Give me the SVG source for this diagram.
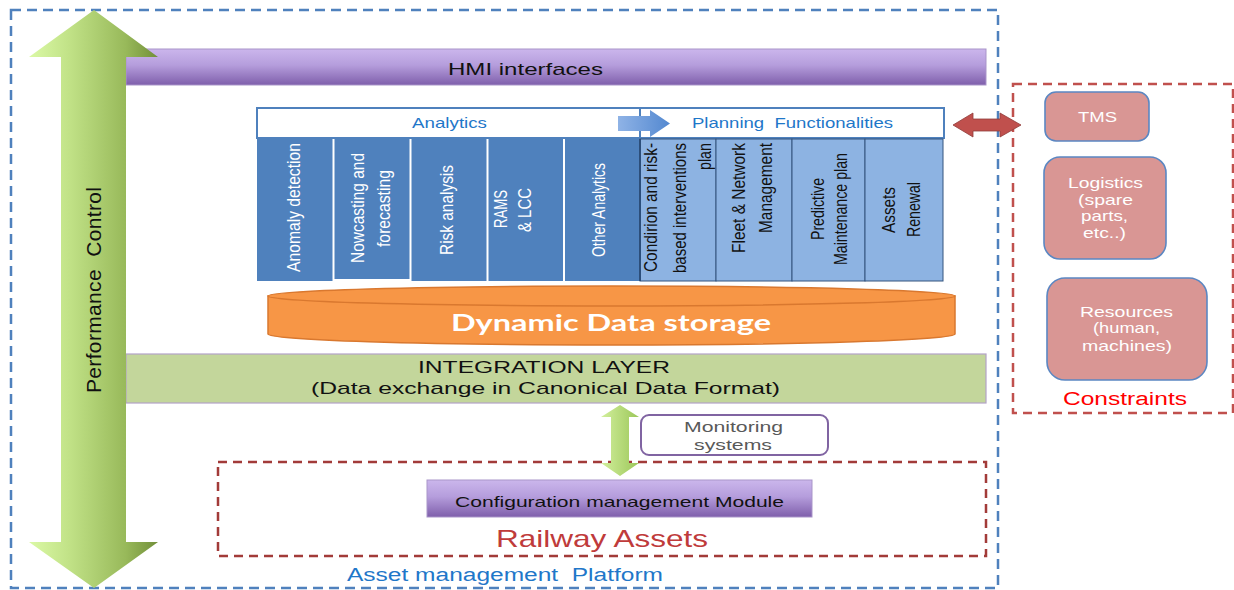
<svg xmlns="http://www.w3.org/2000/svg" width="1234" height="590" viewBox="0 0 1234 590">
<defs>
<linearGradient id="gPerf" gradientUnits="userSpaceOnUse" x1="29" y1="0" x2="158" y2="0">
<stop offset="0" stop-color="#dbf9a6"/><stop offset="0.3" stop-color="#c2e388"/><stop offset="0.75" stop-color="#98b95a"/><stop offset="1" stop-color="#728f3a"/>
</linearGradient>
<linearGradient id="gPurple" x1="0" y1="0" x2="0" y2="1">
<stop offset="0" stop-color="#cbb6ec"/><stop offset="0.45" stop-color="#b59ddc"/><stop offset="1" stop-color="#7f5fab"/>
</linearGradient>
<linearGradient id="gBlueArrow" x1="0" y1="0" x2="1" y2="0">
<stop offset="0" stop-color="#8fb3e6"/><stop offset="1" stop-color="#5388d0"/>
</linearGradient>
<linearGradient id="gSmallGreen" x1="0" y1="0" x2="1" y2="0">
<stop offset="0" stop-color="#d2ef9c"/><stop offset="1" stop-color="#9cc75a"/>
</linearGradient>
<style>
.txt{font-family:"Liberation Sans",Arial,sans-serif}
.cellA{font-family:"Liberation Sans",Arial,sans-serif;font-size:17.5px;fill:#ffffff}
.cellP{font-family:"Liberation Sans",Arial,sans-serif;font-size:17.5px;fill:#111111}
.blueTxt{fill:#1f77c9}
.cstr{fill:#d99694;stroke:#5b87c2;stroke-width:1.6}
.cstrTxt{font-family:"Liberation Sans",Arial,sans-serif;font-size:15px;fill:#ffffff;text-anchor:middle}
.aBox{fill:#4f81bd}
.pBox{fill:#8db3e2;stroke:#34557f;stroke-width:1}
.sep{stroke:#ffffff;stroke-width:2}
</style>
</defs>
<rect width="1234" height="590" fill="#ffffff"/>

<g id="platform">
<rect x="11" y="10" width="987" height="578" fill="none" stroke="#4f81bd" stroke-width="2.5" stroke-dasharray="10,6"/>
<text class="txt blueTxt" x="505" y="581" font-size="18" text-anchor="middle" textLength="316" lengthAdjust="spacingAndGlyphs">Asset management &#160;Platform</text>
</g>

<g id="hmi">
<rect x="126" y="49" width="860" height="36" fill="url(#gPurple)" stroke="#a995c9" stroke-width="1"/>
<text class="txt" x="525.5" y="75" font-size="17" text-anchor="middle" fill="#111" textLength="155" lengthAdjust="spacingAndGlyphs">HMI interfaces</text>
</g>

<g id="analytics-header">
<rect x="257" y="108" width="383" height="30" fill="#ffffff" stroke="#4f81bd" stroke-width="2"/>
<text class="txt blueTxt" x="449.5" y="128" font-size="15" text-anchor="middle" textLength="75" lengthAdjust="spacingAndGlyphs">Analytics</text>
</g>
<g id="planning-header">
<rect x="640" y="108" width="304" height="30" fill="#ffffff" stroke="#4f81bd" stroke-width="2"/>
<text class="txt blueTxt" x="792.5" y="128" font-size="15" text-anchor="middle" textLength="201" lengthAdjust="spacingAndGlyphs">Planning &#160;Functionalities</text>
</g>

<g id="analytics-cells">
<rect class="aBox" x="257" y="139" width="383" height="142"/>
<line class="sep" x1="333.5" y1="139" x2="333.5" y2="281"/>
<line class="sep" x1="410.5" y1="139" x2="410.5" y2="281"/>
<line class="sep" x1="487.5" y1="139" x2="487.5" y2="281"/>
<line class="sep" x1="564" y1="139" x2="564" y2="281"/>
<line x1="333" y1="280" x2="410" y2="280" stroke="#ffffff" stroke-width="2"/>
</g>
<g id="cell-anomaly"><text class="cellA" transform="translate(300,207.5) rotate(-90)" text-anchor="middle" textLength="129" lengthAdjust="spacingAndGlyphs">Anomaly detection</text></g>
<g id="cell-nowcasting">
<text class="cellA" transform="translate(364,208) rotate(-90)" text-anchor="middle" textLength="110" lengthAdjust="spacingAndGlyphs">Nowcasting and</text>
<text class="cellA" transform="translate(390,208.5) rotate(-90)" text-anchor="middle" textLength="77" lengthAdjust="spacingAndGlyphs">forecasting</text>
</g>
<g id="cell-risk"><text class="cellA" transform="translate(453,210) rotate(-90)" text-anchor="middle" textLength="90" lengthAdjust="spacingAndGlyphs">Risk analysis</text></g>
<g id="cell-rams">
<text class="cellA" transform="translate(507,209) rotate(-90)" text-anchor="middle" textLength="38" lengthAdjust="spacingAndGlyphs">RAMS</text>
<text class="cellA" transform="translate(531,210) rotate(-90)" text-anchor="middle" textLength="44" lengthAdjust="spacingAndGlyphs">&amp; LCC</text>
</g>
<g id="cell-other"><text class="cellA" transform="translate(605,210) rotate(-90)" text-anchor="middle" textLength="94" lengthAdjust="spacingAndGlyphs">Other Analytics</text></g>

<g id="planning-cells">
<rect class="pBox" x="640" y="139" width="76" height="142"/>
<rect class="pBox" x="716" y="139" width="76" height="142"/>
<rect class="pBox" x="792" y="139" width="73" height="142"/>
<rect class="pBox" x="865" y="139" width="78" height="142"/>
<line x1="640" y1="139" x2="640" y2="281" stroke="#2c4e7a" stroke-width="2"/>
</g>
<g id="cell-condition">
<text class="cellP" transform="translate(657,207.5) rotate(-90)" text-anchor="middle" textLength="129" lengthAdjust="spacingAndGlyphs">Condirion and risk-</text>
<text class="cellP" transform="translate(686,208) rotate(-90)" text-anchor="middle" textLength="130" lengthAdjust="spacingAndGlyphs">based interventions</text>
<text class="cellP" transform="translate(711,143) rotate(-90)" text-anchor="end" textLength="27" lengthAdjust="spacingAndGlyphs">plan</text>
</g>
<g id="cell-fleet">
<text class="cellP" transform="translate(745,143) rotate(-90)" text-anchor="end" textLength="110" lengthAdjust="spacingAndGlyphs">Fleet &amp; Network</text>
<text class="cellP" transform="translate(772,143) rotate(-90)" text-anchor="end" textLength="90" lengthAdjust="spacingAndGlyphs">Management</text>
</g>
<g id="cell-predictive">
<text class="cellP" transform="translate(824,209) rotate(-90)" text-anchor="middle" textLength="62" lengthAdjust="spacingAndGlyphs">Predictive</text>
<text class="cellP" transform="translate(847,209) rotate(-90)" text-anchor="middle" textLength="112" lengthAdjust="spacingAndGlyphs">Maintenance plan</text>
</g>
<g id="cell-assets">
<text class="cellP" transform="translate(895,210) rotate(-90)" text-anchor="middle" textLength="46" lengthAdjust="spacingAndGlyphs">Assets</text>
<text class="cellP" transform="translate(920,209.5) rotate(-90)" text-anchor="middle" textLength="55" lengthAdjust="spacingAndGlyphs">Renewal</text>
</g>

<g id="storage">
<path d="M268,296 L268,334 A343.5,11 0 0 0 955,334 L955,296 Z" fill="#f79646" stroke="#d9782f" stroke-width="1.5"/>
<ellipse cx="611.5" cy="296" rx="343.5" ry="10" fill="#f79646" stroke="#d9782f" stroke-width="1.5"/>
<text x="611" y="331" font-family="Lato,'Open Sans',sans-serif" font-weight="bold" font-size="23" fill="#ffffff" text-anchor="middle" textLength="320" lengthAdjust="spacingAndGlyphs">Dynamic Data storage</text>
</g>

<g id="integration">
<rect x="126" y="354" width="860" height="49" fill="#c3d69b" stroke="#b3a2c7" stroke-width="1.2"/>
<text class="txt" x="544" y="373" font-size="17" text-anchor="middle" fill="#111" textLength="252" lengthAdjust="spacingAndGlyphs">INTEGRATION LAYER</text>
<text class="txt" x="545.5" y="394" font-size="17" text-anchor="middle" fill="#111" textLength="469" lengthAdjust="spacingAndGlyphs">(Data exchange in Canonical Data Format)</text>
</g>

<g id="performance-control">
<polygon points="94,10 158,57 126,57 126,542 158,542 94,588 29,542 61,542 61,57 29,57" fill="url(#gPerf)"/>
<text class="txt" transform="translate(101,290) rotate(-90)" font-size="21" text-anchor="middle" fill="#111" textLength="206" lengthAdjust="spacing">Performance &#160;Control</text>
</g>

<g id="monitoring">
<rect x="641" y="415" width="187" height="40" rx="8" fill="#ffffff" stroke="#8064a2" stroke-width="2"/>
<text class="txt" x="733.5" y="432" font-size="15" text-anchor="middle" fill="#595959" textLength="99" lengthAdjust="spacingAndGlyphs">Monitoring</text>
<text class="txt" x="733" y="450" font-size="15" text-anchor="middle" fill="#595959" textLength="78" lengthAdjust="spacingAndGlyphs">systems</text>
</g>

<g id="railway-assets">
<rect x="218" y="462" width="768" height="94" fill="none" stroke="#a23b39" stroke-width="2.5" stroke-dasharray="9,6"/>
<text class="txt" x="602" y="547" font-size="24" text-anchor="middle" fill="#bf3b3b" textLength="212" lengthAdjust="spacingAndGlyphs">Railway Assets</text>
</g>

<g id="config-module">
<rect x="427" y="480" width="385" height="37" fill="url(#gPurple)" stroke="#a995c9" stroke-width="1"/>
<text class="txt" x="619.5" y="507" font-size="15" text-anchor="middle" fill="#111" textLength="329" lengthAdjust="spacingAndGlyphs">Configuration management Module</text>
</g>

<g id="constraints">
<rect x="1013" y="84" width="220" height="329" fill="none" stroke="#c0504d" stroke-width="2.5" stroke-dasharray="9,6"/>
<text class="txt" x="1125" y="405" font-size="18" text-anchor="middle" fill="#ff0000" textLength="124" lengthAdjust="spacingAndGlyphs">Constraints</text>
</g>
<g id="tms">
<rect class="cstr" x="1045" y="92" width="104" height="49" rx="11"/>
<text class="cstrTxt" x="1097.5" y="122" textLength="39" lengthAdjust="spacingAndGlyphs">TMS</text>
</g>
<g id="logistics">
<rect class="cstr" x="1044" y="157" width="122" height="102" rx="16"/>
<text class="cstrTxt" x="1105.5" y="188" textLength="75" lengthAdjust="spacingAndGlyphs">Logistics</text>
<text class="cstrTxt" x="1105.5" y="205" textLength="55" lengthAdjust="spacingAndGlyphs">(spare</text>
<text class="cstrTxt" x="1104.5" y="221" textLength="47" lengthAdjust="spacingAndGlyphs">parts,</text>
<text class="cstrTxt" x="1104.5" y="238" textLength="43" lengthAdjust="spacingAndGlyphs">etc..)</text>
</g>
<g id="resources">
<rect class="cstr" x="1047" y="278" width="160" height="102" rx="18"/>
<text class="cstrTxt" x="1126.5" y="317" textLength="93" lengthAdjust="spacingAndGlyphs">Resources</text>
<text class="cstrTxt" x="1126.5" y="333" textLength="67" lengthAdjust="spacingAndGlyphs">(human,</text>
<text class="cstrTxt" x="1127" y="351" textLength="90" lengthAdjust="spacingAndGlyphs">machines)</text>
</g>

<g id="connectors">
<polygon points="618,116 650,116 650,110 670,123.5 650,137 650,131 618,131" fill="url(#gBlueArrow)"/>
<polygon points="953,125 973,113 973,119 1000,119 1000,113 1021,125 1000,137 1000,131 973,131 973,137" fill="#c0504d" stroke="#8f3c3a" stroke-width="0.8"/>
<polygon points="620,405 639,417 629,417 629,463 639,463 620,476 601,463 611,463 611,417 601,417" fill="url(#gSmallGreen)"/>
</g>
</svg>
